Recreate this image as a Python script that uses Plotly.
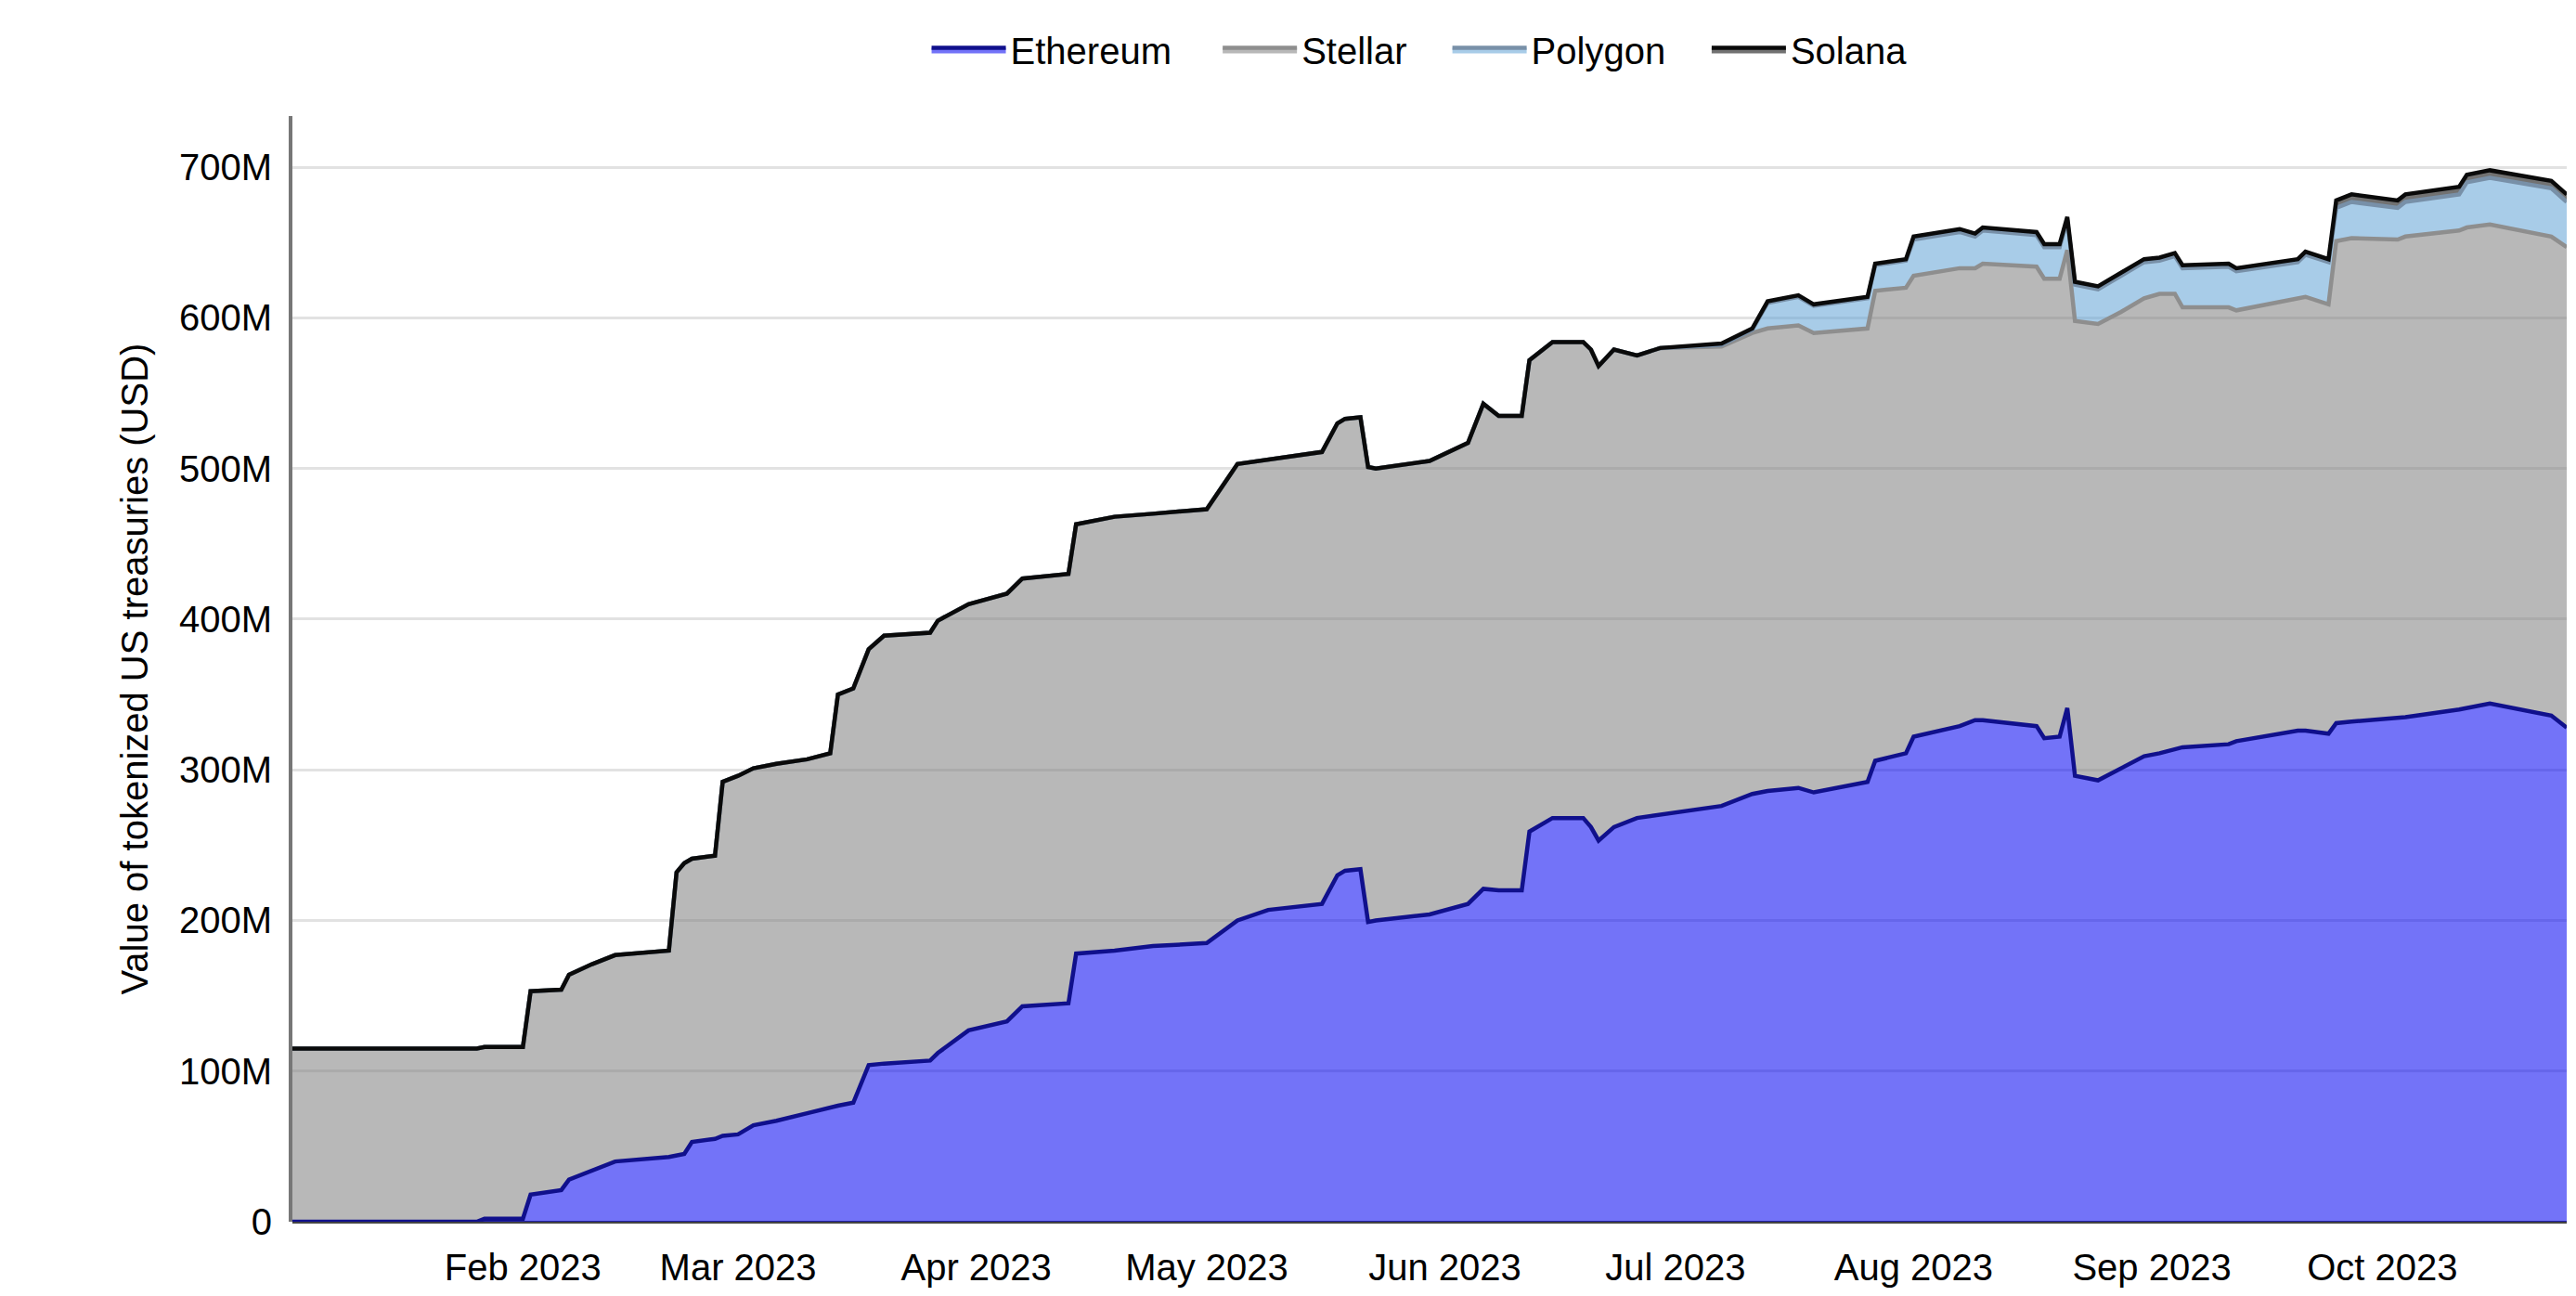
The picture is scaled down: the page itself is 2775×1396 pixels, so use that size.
import plotly.graph_objects as go

dates = [
    "2023-01-02", "2023-01-26", "2023-01-27", "2023-02-01", "2023-02-02", "2023-02-06",
    "2023-02-07", "2023-02-10", "2023-02-13", "2023-02-20", "2023-02-21", "2023-02-22",
    "2023-02-23", "2023-02-26", "2023-02-27", "2023-03-01", "2023-03-03", "2023-03-06",
    "2023-03-10", "2023-03-13", "2023-03-14", "2023-03-16", "2023-03-18", "2023-03-20",
    "2023-03-26", "2023-03-27", "2023-03-31", "2023-04-05", "2023-04-07", "2023-04-13",
    "2023-04-14", "2023-04-19", "2023-04-24", "2023-05-01", "2023-05-05", "2023-05-09",
    "2023-05-16", "2023-05-18", "2023-05-19", "2023-05-21", "2023-05-22", "2023-05-23",
    "2023-05-30", "2023-06-04", "2023-06-06", "2023-06-08", "2023-06-11", "2023-06-12",
    "2023-06-15", "2023-06-19", "2023-06-20", "2023-06-21", "2023-06-23", "2023-06-26",
    "2023-06-29", "2023-07-07", "2023-07-11", "2023-07-13", "2023-07-17", "2023-07-19",
    "2023-07-26", "2023-07-27", "2023-07-31", "2023-08-01", "2023-08-07", "2023-08-09",
    "2023-08-10", "2023-08-17", "2023-08-18", "2023-08-20", "2023-08-21", "2023-08-22",
    "2023-08-25", "2023-08-28", "2023-08-31", "2023-09-02", "2023-09-04", "2023-09-05",
    "2023-09-11", "2023-09-12", "2023-09-20", "2023-09-21", "2023-09-24", "2023-09-25",
    "2023-09-27", "2023-10-03", "2023-10-04", "2023-10-11", "2023-10-12", "2023-10-15",
    "2023-10-23", "2023-10-25",
]

# values in millions of USD
ethereum = [
    0, 0, 2, 2, 18, 21,
    28, 34, 40, 43, 44, 45,
    53, 55, 57, 58, 64, 67,
    72, 76, 77, 79, 104, 105,
    107, 112, 127, 133, 143, 145,
    178, 180, 183, 185, 200, 207,
    211, 230, 233, 234, 199, 200,
    204, 211, 221, 220, 220, 259,
    268, 268, 262, 253, 262, 268,
    270, 276, 284, 286, 288, 285,
    292, 306, 311, 322, 329, 333,
    333, 329, 321, 322, 341, 296,
    293, 301, 309, 311, 314, 315,
    317, 319, 326, 326, 324, 331,
    332, 334, 335, 340, 341, 344,
    336, 328,
]

stellar = [
    115, 115, 114, 114, 135, 133,
    136, 137, 137, 137, 188, 193,
    188, 188, 235, 238, 237, 237,
    235, 235, 273, 275, 276, 284,
    284, 287, 283, 284, 284, 285,
    285, 288, 287, 288, 303, 299,
    300, 300, 300, 300, 302, 300,
    301, 306, 322, 315, 315, 313,
    316, 316, 317, 315, 317, 307,
    310, 305, 306, 307, 307, 305,
    301, 312, 309, 306, 304, 300,
    303, 305, 305, 304, 304, 302,
    303, 303, 304, 305, 302, 292,
    290, 286, 287, 288, 285, 320,
    321, 318, 319, 318, 319, 318,
    318, 319,
]

polygon = [
    0, 0, 0, 0, 0, 0,
    0, 0, 0, 0, 0, 0,
    0, 0, 0, 0, 0, 0,
    0, 0, 0, 0, 0, 0,
    0, 0, 0, 0, 0, 0,
    0, 0, 0, 0, 0, 0,
    0, 0, 0, 0, 0, 0,
    0, 0, 0, 0, 0, 0,
    0, 0, 0, 0, 0, 0,
    0, 1, 2, 17, 19, 18,
    20, 17, 18, 24, 24, 21,
    22, 21, 21, 21, 20, 24,
    23, 24, 24, 22, 25, 26,
    27, 26, 24, 28, 28, 22,
    24, 21, 23, 24, 30, 31,
    32, 30,
]

solana = [
    0, 0, 0, 0, 0, 0,
    0, 0, 0, 0, 0, 0,
    0, 0, 0, 0, 0, 0,
    0, 0, 0, 0, 0, 0,
    0, 0, 0, 0, 0, 0,
    0, 0, 0, 0, 0, 0,
    0, 0, 0, 0, 0, 0,
    0, 0, 0, 0, 0, 0,
    0, 0, 0, 0, 0, 0,
    0, 1, 1, 1, 1, 1,
    1, 1, 1, 2, 2, 2,
    2, 2, 2, 2, 2, 2,
    2, 2, 2, 2, 2, 2,
    2, 2, 2, 2, 2, 5,
    5, 5, 5, 5, 5, 5,
    5, 5,
]

series_names = ["Ethereum", "Stellar", "Polygon", "Solana"]
y_tick_values = [0, 100e6, 200e6, 300e6, 400e6, 500e6, 600e6, 700e6]

n = len(dates)
assert all(len(s) == n for s in (ethereum, stellar, polygon, solana))

styles = {
    "Ethereum": dict(line="#10108c", fill="rgba(0,0,242,0.55)"),
    "Stellar": dict(line="#8e8e8e", fill="rgba(126,126,126,0.55)"),
    "Polygon": dict(line="#7890a8", fill="rgba(97,162,213,0.55)"),
    "Solana": dict(line="#0a0a0a", fill="rgba(20,20,20,0.6)"),
}

# one single-entry legend per series so the entries can be spaced like the original
legend_ids = ["legend", "legend2", "legend3", "legend4"]
legend_x = [0.279, 0.407, 0.508, 0.622]

fig = go.Figure()
for name, vals, lid in zip(series_names, (ethereum, stellar, polygon, solana), legend_ids):
    st = styles[name]
    fig.add_trace(go.Scatter(
        x=dates, y=[v * 1e6 for v in vals], name=name, mode="lines",
        stackgroup="one", line=dict(color=st["line"], width=4.5),
        fillcolor=st["fill"], legend=lid,
    ))

font = "Liberation Sans, Arial, sans-serif"
legend_common = dict(orientation="h", xanchor="left", y=1.06, yanchor="middle",
                     font=dict(size=40), itemwidth=80, bgcolor="rgba(0,0,0,0)")
fig.update_layout(
    width=2767, height=1388,
    margin=dict(l=307, r=10, t=117, b=80),
    paper_bgcolor="white", plot_bgcolor="white",
    font=dict(family=font, size=40, color="#000"),
    showlegend=True,
    **{lid: dict(x=lx, **legend_common) for lid, lx in zip(legend_ids, legend_x)},
)
fig.update_xaxes(
    range=["2023-01-02", "2023-10-25"], dtick="M1", tickformat="%b %Y",
    showgrid=False, showline=False, zeroline=False, ticks="",
    tickfont=dict(size=40), ticklabelstandoff=22,
)
fig.update_yaxes(
    range=[0, 734e6], tickvals=y_tick_values, tickformat="~s",
    showgrid=True, gridcolor="#e2e2e2", gridwidth=3,
    showline=True, linecolor="#777", linewidth=4,
    zeroline=True, zerolinecolor="#444", zerolinewidth=3,
    ticks="", tickfont=dict(size=40), ticklabelstandoff=10,
    title=dict(text="Value of tokenized US treasuries (USD)", font=dict(size=40), standoff=22),
)

fig.write_html("out.html")
